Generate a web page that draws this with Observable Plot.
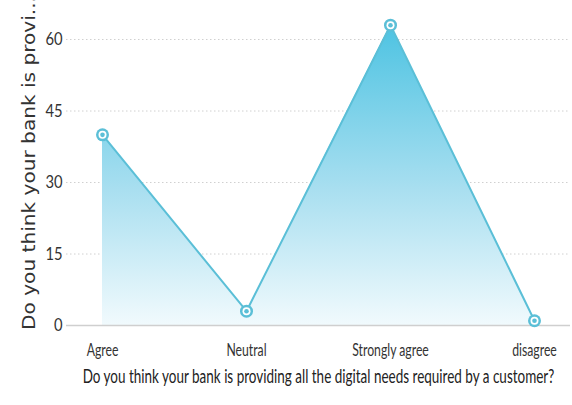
<!DOCTYPE html>
<html><head><meta charset="utf-8">
<script src="https://cdn.jsdelivr.net/npm/d3@7"></script>
<script src="https://cdn.jsdelivr.net/npm/@observablehq/plot@0.6"></script>
<style>
body{margin:0;background:#fff;}
</style></head>
<body><div id="chart"></div>
<script>
const categories = ["Agree", "Neutral", "Strongly agree", "disagree"];
const values = [40, 3, 63, 1];
const yTicks = [0, 15, 30, 45, 60];
const xTitle = "Do you think your bank is providing all the digital needs required by a customer?";
const yTitle = "Do you think your bank is provi...";

const data = categories.map((c, i) => ({cat: c, v: values[i]}));
const lineColor = "#5bbfd7";

const defs = () => {
  const d = d3.create("svg:defs");
  const g = d.append("linearGradient").attr("id", "areaGrad").attr("x1", 0).attr("y1", 0).attr("x2", 0).attr("y2", 1);
  g.append("stop").attr("offset", "0%").attr("stop-color", "#4dc3e2");
  g.append("stop").attr("offset", "55%").attr("stop-color", "#a9dff0");
  g.append("stop").attr("offset", "100%").attr("stop-color", "#f1fafd");
  return d.node();
};

const yLabel = (index, scales, values, dims) => {
  const t = d3.create("svg:text")
    .attr("transform", `translate(35,${dims.height - dims.marginBottom + 5}) rotate(-90)`)
    .attr("text-anchor", "start")
    .attr("font-family", "DejaVu Sans")
    .attr("font-size", 17)
    .attr("fill", "#333")
    .attr("textLength", 334)
    .attr("lengthAdjust", "spacingAndGlyphs")
    .attr("style", "font-family:'DejaVu Sans',sans-serif;font-size:17px;fill:#333")
    .text(yTitle);
  return t.node();
};

const chart = Plot.plot({
  width: 572,
  height: 405,
  marginLeft: 66,
  marginRight: 2,
  marginTop: 39,
  marginBottom: 80,
  style: {fontFamily: "Lato, sans-serif", fontSize: "14px", color: "#333"},
  x: {type: "point", domain: categories, padding: 0.238, align: 0.5, label: null},
  y: {domain: [0, 60], label: null},
  marks: [
    defs,
    Plot.ruleY(yTicks.filter(t => t > 0), {stroke: "#d0d0d0", strokeDasharray: "1.5,2.5", strokeWidth: 1}),
    Plot.areaY(data, {x: "cat", y: "v", fill: "url(#areaGrad)"}),
    Plot.ruleY([0], {stroke: "#cfcfcf", strokeWidth: 1.5}),
    Plot.lineY(data, {x: "cat", y: "v", stroke: lineColor, strokeWidth: 2}),
    Plot.dot(data, {x: "cat", y: "v", r: 6.5, fill: lineColor, stroke: "none"}),
    Plot.dot(data, {x: "cat", y: "v", r: 4, fill: "#fff", stroke: "none"}),
    Plot.dot(data, {x: "cat", y: "v", r: 2.3, fill: lineColor, stroke: "none"}),
    Plot.axisY({ticks: yTicks, tickSize: 0, tickPadding: 4, fontSize: 18, label: null, className: "sqy"}),
    Plot.axisX({tickSize: 0, tickPadding: 18, fontSize: 18, label: null, className: "sqx"}),
    Plot.text([xTitle], {frameAnchor: "bottom", dy: 57, fontSize: 19, fill: "#222", className: "sqt"}),
    yLabel
  ]
});
document.getElementById("chart").append(chart);
// Narrow the glyphs horizontally, as in the reference
const squeeze = {sqy: 0.82, sqx: 0.68, sqt: 0.71};
d3.select(chart).selectAll("text").each(function() {
  const el = this;
  let p = el.parentNode, k = null;
  while (p && p !== chart) {
    const cls = (p.getAttribute && p.getAttribute("class")) || "";
    for (const key in squeeze) if (cls.split(/\s+/).some(c => c.startsWith(key))) k = squeeze[key];
    p = p.parentNode;
  }
  if (k == null) return;
  const tr = el.getAttribute("transform") || "";
  el.setAttribute("transform", tr + ` scale(${k},1)`);
});
</script></body></html>
